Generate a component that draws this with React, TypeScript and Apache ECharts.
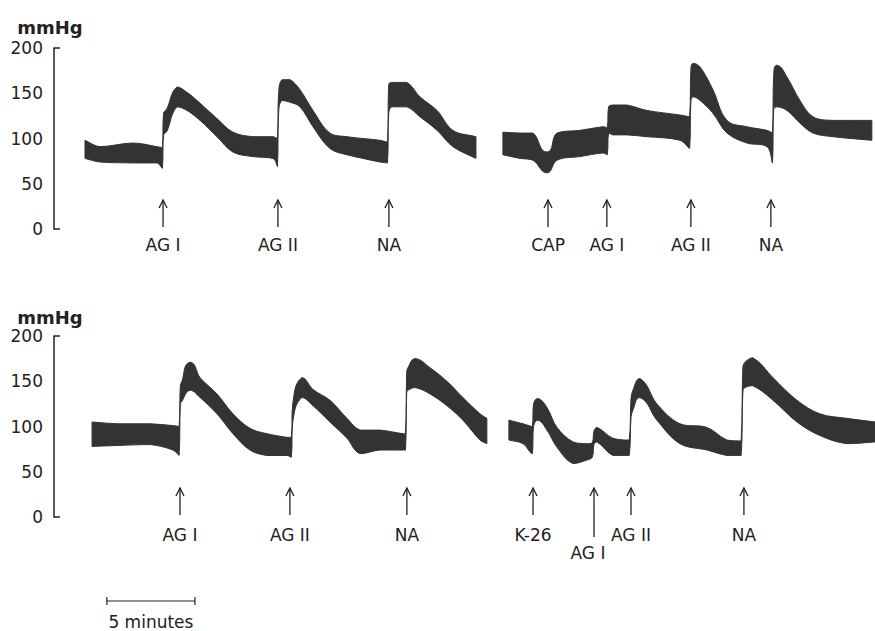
import React, { useEffect, useRef } from 'react';
import * as echarts from 'echarts';

// time axis in minutes, pressure in mmHg
const X_MAX = 46.6;
const Y_MAX = 200;
const Y_STEP = 50;

// ---- top panel, left trace ----
const topLeftTime = [1.76, 2.61, 4.48, 5.85, 6.15, 6.22, 6.41, 6.98, 7.55, 8.29, 9.25, 10.16, 11.29, 12.43, 12.68, 12.75, 12.94, 13.4, 13.96, 14.7, 15.66, 16.63, 17.54, 18.5, 18.93, 19.0, 19.18, 20.03, 20.77, 21.74, 22.64, 23.95];
const topLeftSys = [98, 91, 95, 91, 90, 128, 133, 157, 151, 139, 122, 107, 102, 102, 100, 150, 165, 165, 154, 131, 106, 102, 100, 98, 96, 160, 162, 162, 146, 131, 109, 102];
const topLeftDia = [78, 74, 73, 73, 67, 104, 108, 135, 131, 120, 102, 85, 80, 78, 69, 128, 142, 140, 135, 113, 89, 82, 78, 74, 73, 128, 135, 135, 124, 109, 91, 78];

// ---- top panel, right trace ----
const topRightTime = [25.48, 26.45, 27.19, 27.98, 28.55, 29.85, 31.16, 31.4, 31.48, 31.73, 32.52, 33.66, 35.53, 36.08, 36.15, 36.27, 36.67, 37.4, 38.2, 39.33, 40.47, 40.78, 40.85, 41.03, 41.6, 42.34, 43.08, 44.21, 46.42];
const topRightSys = [107, 106, 106, 85, 106, 109, 113, 112, 135, 137, 137, 131, 126, 124, 176, 183, 179, 154, 120, 113, 109, 106, 170, 181, 168, 142, 124, 120, 120];
const topRightDia = [82, 78, 76, 62, 76, 80, 84, 82, 106, 104, 104, 102, 98, 89, 140, 146, 142, 128, 106, 95, 91, 73, 132, 135, 131, 117, 106, 102, 98];

// ---- bottom panel, left trace ----
const bottomLeftTime = [2.16, 3.58, 5.45, 6.75, 7.1, 7.17, 7.26, 7.72, 8.29, 9.25, 10.16, 11.12, 12.09, 13.22, 13.47, 13.55, 14.07, 14.7, 15.66, 16.63, 17.37, 18.5, 19.81, 19.95, 20.02, 20.09, 20.49, 21.34, 22.3, 23.21, 24.18, 24.57];
const bottomLeftSys = [105, 103, 103, 101, 100, 145, 150, 171, 154, 136, 114, 98, 92, 88, 88, 125, 154, 141, 129, 109, 96, 96, 92, 92, 160, 165, 175, 165, 150, 132, 114, 109];
const bottomLeftDia = [78, 79, 80, 74, 68, 125, 128, 140, 132, 114, 92, 74, 68, 68, 66, 105, 132, 123, 105, 87, 70, 74, 74, 74, 138, 140, 143, 136, 123, 107, 85, 81];

// ---- bottom panel, right trace ----
const bottomRightTime = [25.82, 26.62, 27.15, 27.22, 27.47, 27.98, 28.55, 29.46, 30.25, 30.55, 30.65, 30.82, 31.73, 32.65, 32.75, 32.86, 33.26, 34.22, 35.53, 37.06, 38.2, 39.0, 39.1, 39.22, 39.67, 40.81, 42.17, 43.47, 45.01, 46.6];
const bottomRightSys = [107, 103, 100, 125, 131, 121, 99, 83, 81, 82, 95, 99, 87, 85, 130, 140, 153, 125, 103, 99, 85, 84, 165, 171, 176, 154, 129, 114, 109, 105];
const bottomRightDia = [85, 81, 70, 100, 107, 96, 77, 59, 63, 66, 80, 83, 68, 68, 110, 118, 132, 107, 81, 74, 68, 68, 138, 143, 145, 129, 105, 90, 81, 83];

// ---- injection markers ----
const topArrowTimes = [6.19, 12.71, 19.01, 28.04, 31.38, 36.15, 40.69];
const topArrowLabels = ['AG I', 'AG II', 'NA', 'CAP', 'AG I', 'AG II', 'NA'];
const bottomArrowTimes = [7.15, 13.39, 20.03, 27.19, 30.65, 32.75, 39.16];
const bottomArrowLabels = ['AG I', 'AG II', 'NA', 'K-26', 'AG I', 'AG II', 'NA'];
const bottomLongArrowIndex = 4;

// ---- time scale bar ----
const scaleBarStart = 3.0;
const scaleBarMinutes = 5;
const scaleBarLabel = '5 minutes';

const INK = '#222';
const TRACE = '#333';
const FONT = '"DejaVu Sans", "Noto Sans", sans-serif';

// bounded cubic smoothing of a pixel polyline (no overshoot), returns path commands after the first point
const smoothCmds = (p: number[][], k = 0.35): string => {
  const n = p.length;
  let s = '';
  const dir = (a: number[], b: number[]) => {
    const dx = b[0] - a[0];
    const dy = b[1] - a[1];
    const l = Math.hypot(dx, dy) || 1;
    return [dx / l, dy / l];
  };
  for (let i = 0; i < n - 1; i++) {
    const p0 = p[i - 1] || p[i];
    const p1 = p[i];
    const p2 = p[i + 1];
    const p3 = p[i + 2] || p2;
    const len = Math.hypot(p2[0] - p1[0], p2[1] - p1[1]);
    const d1 = dir(p0, p2);
    const d2 = dir(p1, p3);
    const xlo = Math.min(p1[0], p2[0]);
    const xhi = Math.max(p1[0], p2[0]);
    const ylo = Math.min(p1[1], p2[1]);
    const yhi = Math.max(p1[1], p2[1]);
    const cl = (v: number, a: number, b: number) => Math.max(a, Math.min(b, v));
    const c1 = [cl(p1[0] + d1[0] * len * k, xlo, xhi), cl(p1[1] + d1[1] * len * k, ylo, yhi)];
    const c2 = [cl(p2[0] - d2[0] * len * k, xlo, xhi), cl(p2[1] - d2[1] * len * k, ylo, yhi)];
    s += ` C${c1[0].toFixed(2)},${c1[1].toFixed(2)} ${c2[0].toFixed(2)},${c2[1].toFixed(2)} ${p2[0].toFixed(2)},${p2[1].toFixed(2)}`;
  }
  return s;
};

const bandSeries = (grid: number, t: number[], hi: number[], lo: number[]) => ({
  type: 'custom',
  xAxisIndex: grid,
  yAxisIndex: grid * 2,
  silent: true,
  clip: false,
  data: [[t[0], hi[0]]],
  renderItem: (_p: any, api: any) => {
    const up = t.map((x, i) => api.coord([x, hi[i]]));
    const dn = t.map((x, i) => api.coord([x, lo[i]])).reverse();
    const d =
      `M${up[0][0]},${up[0][1]}` +
      smoothCmds(up) +
      ` L${dn[0][0]},${dn[0][1]}` +
      smoothCmds(dn) +
      ' Z';
    return {
      type: 'path',
      shape: { pathData: d },
      style: { fill: TRACE, stroke: TRACE, lineWidth: 1 },
    };
  },
});

const arrowSeries = (grid: number, times: number[], labels: string[], labelGap: number, longIndex: number) => ({
  type: 'custom',
  xAxisIndex: grid,
  yAxisIndex: grid * 2,
  silent: true,
  clip: false,
  data: times.map((t) => [t, 0]),
  renderItem: (params: any, api: any) => {
    const i = params.dataIndex;
    const [x, y0] = api.coord([api.value(0), 0]);
    const long = i === longIndex;
    const tip = y0 - 29;
    const end = long ? y0 + 20 : y0 - 2;
    const ly = long ? y0 + 36 : y0 + labelGap;
    return {
      type: 'group',
      children: [
        { type: 'line', shape: { x1: x, y1: tip, x2: x, y2: end }, style: { stroke: INK, lineWidth: 1.3 } },
        {
          type: 'polyline',
          shape: { points: [[x - 4, tip + 8], [x, tip], [x + 4, tip + 8]] },
          style: { stroke: INK, lineWidth: 1.3, fill: 'none' },
        },
        {
          type: 'text',
          x: long ? x - 6 : x,
          y: ly,
          style: {
            text: labels[i],
            fill: INK,
            fontSize: 17,
            fontFamily: FONT,
            align: 'center',
            verticalAlign: 'middle',
          },
        },
      ],
    };
  },
});

const scaleBarSeries = {
  type: 'custom',
  xAxisIndex: 1,
  yAxisIndex: 2,
  silent: true,
  clip: false,
  data: [[scaleBarStart, 0]],
  renderItem: (_p: any, api: any) => {
    const a = api.coord([scaleBarStart, 0]);
    const b = api.coord([scaleBarStart + scaleBarMinutes, 0]);
    const y = a[1] + 84;
    return {
      type: 'group',
      children: [
        { type: 'line', shape: { x1: a[0], y1: y, x2: b[0], y2: y }, style: { stroke: INK, lineWidth: 1.2 } },
        { type: 'line', shape: { x1: a[0], y1: y - 4, x2: a[0], y2: y + 4 }, style: { stroke: INK, lineWidth: 1.2 } },
        { type: 'line', shape: { x1: b[0], y1: y - 4, x2: b[0], y2: y + 4 }, style: { stroke: INK, lineWidth: 1.2 } },
        {
          type: 'text',
          x: (a[0] + b[0]) / 2,
          y: y + 21,
          style: { text: scaleBarLabel, fill: INK, fontSize: 17, fontFamily: FONT, align: 'center', verticalAlign: 'middle' },
        },
      ],
    };
  },
};

const mainY = (grid: number, nameGap: number) => ({
  type: 'value',
  gridIndex: grid,
  position: 'left',
  min: 0,
  max: Y_MAX,
  interval: Y_STEP,
  name: 'mmHg',
  nameLocation: 'end',
  nameGap,
  nameTextStyle: { color: INK, fontSize: 18, fontWeight: 'bold', fontFamily: FONT, align: 'center', padding: [0, 8, 0, 0] },
  axisLine: { show: true, lineStyle: { color: INK, width: 1.5 } },
  axisTick: { show: false },
  axisLabel: { color: INK, fontSize: 17, fontFamily: FONT, margin: 11 },
  splitLine: { show: false },
});

const capY = (grid: number) => ({
  type: 'value',
  gridIndex: grid,
  position: 'left',
  min: 0,
  max: Y_MAX,
  interval: Y_MAX,
  axisLine: { show: false },
  axisTick: { show: true, inside: true, length: 6, lineStyle: { color: INK, width: 1.5 } },
  axisLabel: { show: false },
  splitLine: { show: false },
});

const xAx = (grid: number) => ({
  type: 'value',
  gridIndex: grid,
  min: 0,
  max: X_MAX,
  show: false,
  splitLine: { show: false },
});

export default function App() {
  const ref = useRef<HTMLDivElement>(null);
  useEffect(() => {
    if (!ref.current) return;
    const chart = echarts.init(ref.current, undefined, { renderer: 'svg' });
    chart.setOption({
      animation: false,
      backgroundColor: '#fff',
      grid: [
        { left: 54, right: 0, top: 48, height: 181 },
        { left: 54, right: 0, top: 336, height: 181 },
      ],
      xAxis: [xAx(0), xAx(1)],
      yAxis: [mainY(0, 12), capY(0), mainY(1, 10), capY(1)],
      series: [
        bandSeries(0, topLeftTime, topLeftSys, topLeftDia),
        bandSeries(0, topRightTime, topRightSys, topRightDia),
        bandSeries(1, bottomLeftTime, bottomLeftSys, bottomLeftDia),
        bandSeries(1, bottomRightTime, bottomRightSys, bottomRightDia),
        arrowSeries(0, topArrowTimes, topArrowLabels, 16, -1),
        arrowSeries(1, bottomArrowTimes, bottomArrowLabels, 18, bottomLongArrowIndex),
        scaleBarSeries,
      ],
    });
    return () => chart.dispose();
  }, []);
  return (
    <div
      ref={ref}
      style={{ position: 'fixed', left: 0, top: 0, width: 875, height: 631, background: '#fff' }}
    />
  );
}
